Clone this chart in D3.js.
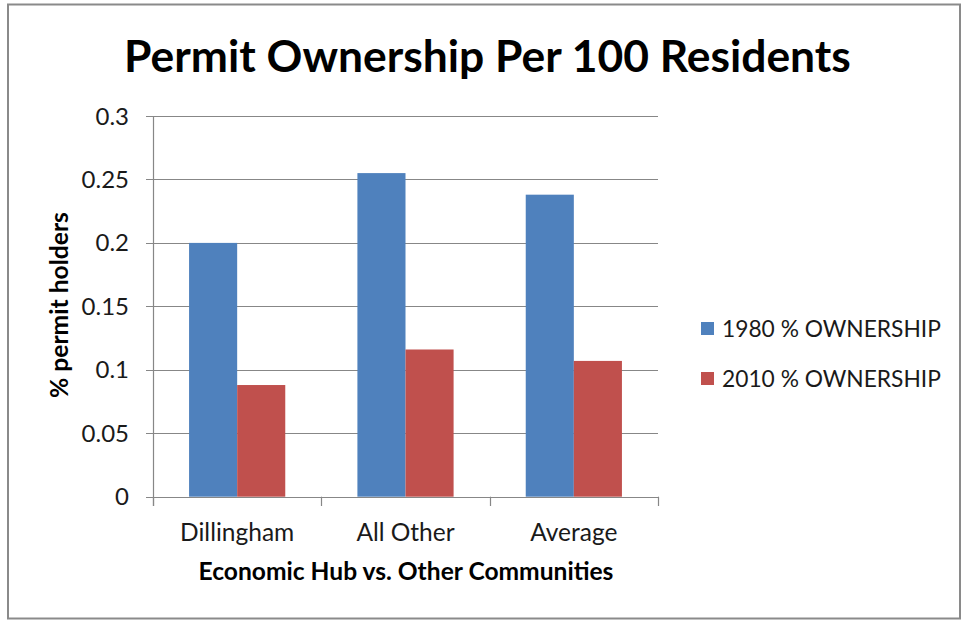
<!DOCTYPE html>
<html><head><meta charset="utf-8">
<script src="https://cdn.jsdelivr.net/npm/d3@7"></script>
<style>body{margin:0;background:#fff}svg{display:block}</style>
</head><body>
<svg id="c" width="962" height="620"></svg>
<script>
const categories = ["Dillingham", "All Other", "Average"];
const series = ["1980 % OWNERSHIP", "2010 % OWNERSHIP"];
const values1980 = [0.200, 0.255, 0.238];
const values2010 = [0.088, 0.116, 0.107];
const yTicks = [0, 0.05, 0.1, 0.15, 0.2, 0.25, 0.3];
const yTickLabels = ["0", "0.05", "0.1", "0.15", "0.2", "0.25", "0.3"];
const colors = ["#4F81BD", "#C0504D"];
const titleText = "Permit Ownership Per 100 Residents";
const xTitle = "Economic Hub vs. Other Communities";
const yTitle = "% permit holders";

const svg = d3.select("#c");
const FONT = "Lato, 'Open Sans', sans-serif";

// outer frame
svg.append("rect").attr("x", 8).attr("y", 4.5).attr("width", 952).attr("height", 614)
  .attr("fill", "#fff").attr("stroke", "#8a8a8a").attr("stroke-width", 2);

const x = d3.scaleBand().domain(categories).range([153, 658]).padding(0);
const xs = d3.scaleBand().domain(series).range([0, x.bandwidth()]).paddingInner(0).paddingOuter(0.75);
const y = d3.scaleLinear().domain([0, 0.3]).range([496.7, 116]);

// gridlines
svg.append("g").selectAll("line").data(yTicks).join("line")
  .attr("x1", 146).attr("x2", 658)
  .attr("y1", d => Math.round(y(d)) + 0.5).attr("y2", d => Math.round(y(d)) + 0.5)
  .attr("stroke", "#878787").attr("stroke-width", 1.2);

// bars
const data = categories.map((c, i) => ({c, v: [values1980[i], values2010[i]]}));
const g = svg.append("g");
data.forEach(d => {
  series.forEach((s, j) => {
    g.append("rect")
      .attr("x", x(d.c) + xs(s)).attr("width", xs.bandwidth())
      .attr("y", y(d.v[j])).attr("height", y(0) - y(d.v[j]))
      .attr("fill", colors[j]);
  });
});

// axes lines
svg.append("line").attr("x1", 153.5).attr("x2", 153.5).attr("y1", y(0.3)).attr("y2", 506)
  .attr("stroke", "#878787").attr("stroke-width", 1.2);
svg.append("line").attr("x1", 146).attr("x2", 658).attr("y1", Math.round(y(0)) + 0.5).attr("y2", Math.round(y(0)) + 0.5)
  .attr("stroke", "#878787").attr("stroke-width", 1.2);
// x ticks at category boundaries
const bounds = categories.map(c => x(c)).concat([x.range()[1]]);
svg.append("g").selectAll("line").data(bounds).join("line")
  .attr("x1", d => Math.round(d) + 0.5).attr("x2", d => Math.round(d) + 0.5)
  .attr("y1", y(0)).attr("y2", 506)
  .attr("stroke", "#878787").attr("stroke-width", 1.2);

// y tick labels
svg.append("g").selectAll("text").data(yTicks).join("text")
  .attr("x", 129).attr("y", d => y(d) + 8.5)
  .attr("text-anchor", "end").attr("font-family", FONT).attr("font-size", 24)
  .attr("fill", "#1a1a1a").text((d, i) => yTickLabels[i]);

// x tick labels
svg.append("g").selectAll("text").data(categories).join("text")
  .attr("x", d => x(d) + x.bandwidth() / 2).attr("y", 541)
  .attr("text-anchor", "middle").attr("font-family", FONT).attr("font-size", 24.5)
  .attr("fill", "#1a1a1a").text(d => d);

function fit(sel, w) {
  const len = sel.node().getComputedTextLength();
  const fs = parseFloat(sel.attr("font-size"));
  sel.attr("font-size", fs * w / len);
}

// title
const t = svg.append("text").attr("x", 487.5).attr("y", 72).attr("text-anchor", "middle")
  .attr("font-family", FONT).attr("font-weight", "bold").attr("font-size", 34).attr("fill", "#000").text(titleText);
fit(t, 727);

// x axis title
const xt = svg.append("text").attr("x", 406).attr("y", 580).attr("text-anchor", "middle")
  .attr("font-family", FONT).attr("font-weight", "bold").attr("font-size", 19).attr("fill", "#000").text(xTitle);
fit(xt, 415);

// y axis title
const yt = svg.append("text").attr("transform", "translate(68,305) rotate(-90)").attr("text-anchor", "middle")
  .attr("font-family", FONT).attr("font-weight", "bold").attr("font-size", 19).attr("fill", "#000").text(yTitle);
fit(yt, 186);

// legend
const lg = svg.append("g");
series.forEach((s, j) => {
  const cy = 329 + j * 50;
  lg.append("rect").attr("x", 701).attr("y", cy - 7).attr("width", 13).attr("height", 13).attr("fill", colors[j]);
  const lt = lg.append("text").attr("x", 722).attr("y", cy + 8).attr("font-family", FONT).attr("font-size", 20)
    .attr("fill", "#1a1a1a").text(s);
  fit(lt, 219);
});
</script>
</body></html>
